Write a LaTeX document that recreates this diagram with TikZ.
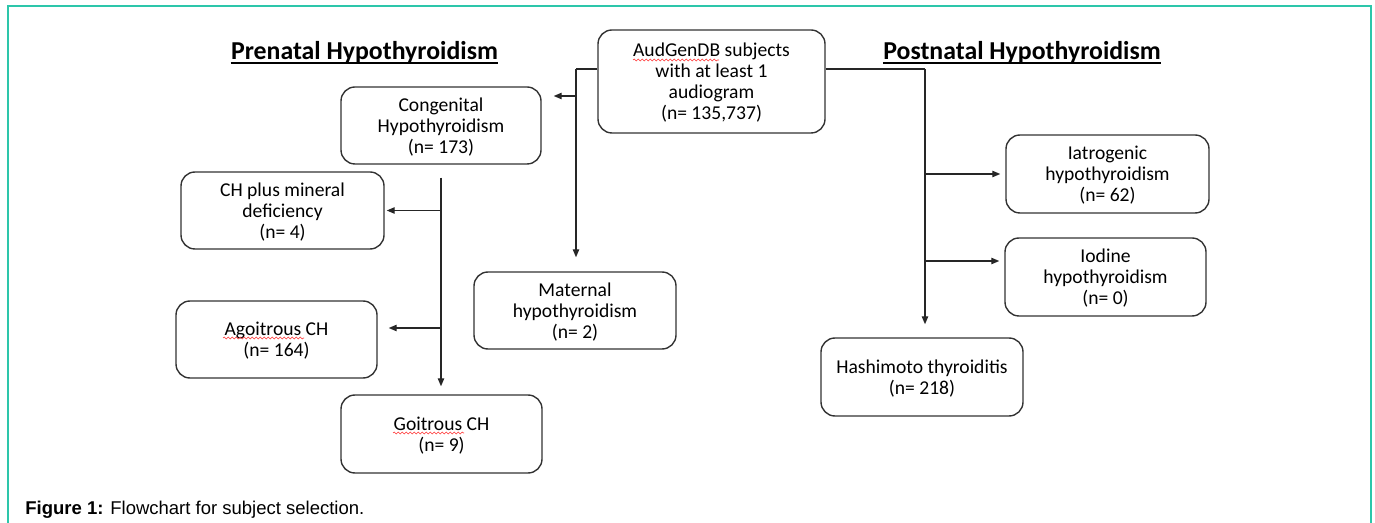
\documentclass[tikz,border=0pt]{standalone}
\usepackage{fontspec}
\setmainfont{Carlito}
\newfontfamily\capfont{Liberation Sans}
\usetikzlibrary{arrows.meta,decorations.pathmorphing}
\definecolor{frameteal}{RGB}{45,198,170}

\begin{document}
\begin{tikzpicture}[
    % one unit is one pixel of the reference, y goes down
    x=0.5pt,
    y=-0.5pt
]
    % --- Style Definitions ---
    \tikzstyle{box} = [draw=black!80, line width=0.7pt, rounded corners=7pt,
        align=center, inner sep=0pt, text depth=-3.6pt,
        font=\fontsize{9.8}{10.5}\selectfont]
    \tikzstyle{link} = [draw=black!85, line width=0.65pt]
    \tikzstyle{arrow} = [link, -{Triangle[length=4pt,width=3.2pt]}]
    \tikzstyle{heading} = [anchor=base, inner sep=0pt,
        font=\fontsize{12.9}{14}\selectfont\bfseries]
    \tikzstyle{headrule} = [draw=black, line width=1pt]
    \tikzstyle{spell} = [draw=red!80, line width=0.3pt,
        decorate, decoration={snake, amplitude=0.45pt, segment length=2pt}]

    \useasboundingbox (0,0) rectangle (1375,523);

    % --- Frame ---
    \draw[frameteal, line width=1pt] (8,540) -- (8,6) -- (1371,6) -- (1371,540);

    % --- Headings ---
    \node[heading] (prenatal) at (364.5,60) {Prenatal Hypothyroidism};
    \node[heading] (postnatal) at (1022,60) {Postnatal Hypothyroidism};
    \draw[headrule] ([yshift=-1.4pt]prenatal.base west) -- ([yshift=-1.4pt]prenatal.base east);
    \draw[headrule] ([yshift=-1.4pt]postnatal.base west) -- ([yshift=-1.4pt]postnatal.base east);

    % --- Boxes ---
    \node[box, minimum width=113.5pt, minimum height=51.5pt] (audgen) at (711.5,81.5)
        {AudGenDB subjects\\with at least 1\\audiogram\\(n= 135,737)};
    \node[box, minimum width=100pt, minimum height=38.5pt] (congen) at (441,125.5)
        {Congenital\\Hypothyroidism\\(n= 173)};
    \node[box, minimum width=101.5pt, minimum height=38.5pt] (chmin) at (282.5,210.5)
        {CH plus mineral\\deficiency\\(n= 4)};
    \node[box, minimum width=100.5pt, minimum height=38.5pt] (agoit) at (276.5,339.5)
        {Agoitrous CH\\(n= 164)};
    \node[box, minimum width=100.5pt, minimum height=39pt] (goitr) at (441.5,434)
        {Goitrous CH\\(n= 9)};
    \node[box, minimum width=101pt, minimum height=38.5pt] (matern) at (575,310.5)
        {Maternal\\hypothyroidism\\(n= 2)};
    \node[box, minimum width=101.5pt, minimum height=39pt] (iatro) at (1107.5,174)
        {Iatrogenic\\hypothyroidism\\(n= 62)};
    \node[box, minimum width=100.5pt, minimum height=39pt] (iodine) at (1105.5,277)
        {Iodine\\hypothyroidism\\(n= 0)};
    \node[box, minimum width=101pt, minimum height=39pt] (hashi) at (922,377)
        {Hashimoto thyroiditis\\(n= 218)};

    % --- Spell-check marks ---
    \draw[spell] (633,60) -- (719,60);
    \draw[spell] (223,338) -- (304,338);
    \draw[spell] (393,433) -- (464,433);

    % --- Junctions ---
    \coordinate (jL) at (576,69);
    \coordinate (jC) at (576,96);
    \coordinate (jA) at (441,328);
    \coordinate (jR) at (925,69);
    \coordinate (jI) at (925,261);

    % --- Prenatal Branch ---
    \draw[link] (audgen.west |- jL) -- (jL);
    \draw[arrow, shorten >=7pt] (jL) -- (jL |- matern.north);
    \draw[arrow, shorten >=6pt] (jC) -- (jC -| congen.east);
    \draw[arrow, shorten <=6.5pt, shorten >=4pt] (congen.south) -- (congen.south |- goitr.north);
    \draw[arrow, shorten >=1pt] (congen.south |- chmin.east) -- (chmin.east);
    \draw[arrow, shorten >=5.5pt] (jA) -- (jA -| agoit.east);

    % --- Postnatal Branch ---
    \draw[link] (audgen.east |- jR) -- (jR);
    \draw[arrow, shorten >=6.5pt] (jR) -- (jR |- hashi.north);
    \draw[arrow, shorten >=2.5pt] (jR |- iatro.west) -- (iatro.west);
    \draw[arrow, shorten >=2.5pt] (jI) -- (jI -| iodine.west);

    % --- Caption ---
    \node[anchor=base west, inner sep=0pt, font=\capfont\fontsize{9.25}{11}\selectfont]
        (caption) at (25,514) {\textbf{Figure 1:} Flowchart for subject selection.};
\end{tikzpicture}
\end{document}
